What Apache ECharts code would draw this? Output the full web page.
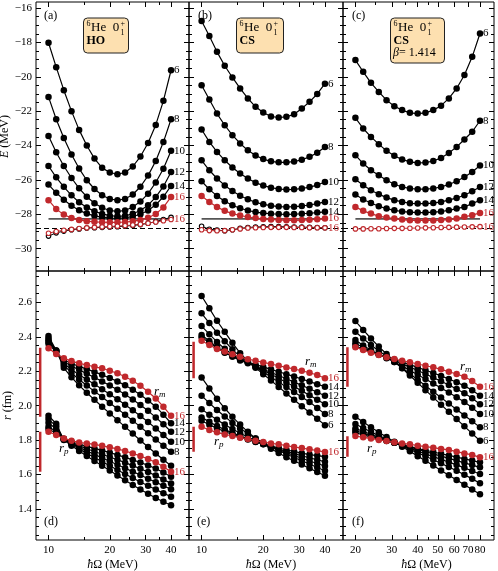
<!DOCTYPE html>
<html><head><meta charset="utf-8">
<script src="https://cdn.jsdelivr.net/npm/echarts@6/dist/echarts.min.js"></script>
<style>html,body{margin:0;padding:0;background:#fff}#c{width:498px;height:571px}</style>
</head><body><div id="c"></div>
<script>
// ---------------- data ----------------
const hwLow  = [10, 10.91, 11.89, 12.97, 14.14, 15.42, 16.82, 18.34, 20, 21.81, 23.78, 25.94, 28.28, 30.84, 33.64, 36.68, 40];
const hwHigh = [20, 21.81, 23.78, 25.94, 28.28, 30.84, 33.64, 36.68, 40, 43.62, 47.57, 51.87, 56.57, 61.69, 67.27, 73.36, 80];
const nmaxLabels = ['6', '8', '10', '12', '14', '16'];

// (a) HO energies, one row per Nmax 6..16
const E_HO = [
  [-18.02,-19.44,-20.78,-22.0,-23.09,-24.0,-24.76,-25.3,-25.57,-25.67,-25.57,-25.22,-24.64,-23.85,-22.8,-21.4,-19.62],
  [-21.17,-22.47,-23.56,-24.52,-25.34,-26.02,-26.53,-26.89,-27.11,-27.18,-27.11,-26.85,-26.4,-25.75,-24.9,-23.8,-22.47],
  [-23.44,-24.39,-25.19,-25.89,-26.49,-26.98,-27.36,-27.62,-27.78,-27.83,-27.78,-27.58,-27.26,-26.8,-26.15,-25.35,-24.31],
  [-25.19,-25.85,-26.4,-26.9,-27.3,-27.6,-27.83,-27.98,-28.08,-28.12,-28.09,-27.97,-27.78,-27.47,-27.0,-26.38,-25.54],
  [-26.27,-26.75,-27.15,-27.5,-27.77,-27.96,-28.09,-28.17,-28.22,-28.23,-28.21,-28.13,-28.0,-27.78,-27.45,-26.98,-26.35],
  [-27.18,-27.7,-28.02,-28.22,-28.33,-28.4,-28.44,-28.46,-28.47,-28.47,-28.45,-28.41,-28.33,-28.2,-27.98,-27.6,-26.99]
];
const E_HO_ext8  = [-29.27,-29.08,-28.98,-28.9,-28.85,-28.8,-28.78,-28.76,-28.74,-28.72,-28.69,-28.65,-28.6,-28.52,-28.43,-28.3,-28.18];
const E_HO_ext16 = [-29.1,-29.0,-28.93,-28.88,-28.83,-28.79,-28.76,-28.73,-28.71,-28.69,-28.66,-28.62,-28.58,-28.52,-28.45,-28.38,-28.3];

// (b) CS energies
const E_CS = [
  [-16.75,-17.63,-18.55,-19.36,-20.04,-20.68,-21.26,-21.75,-22.08,-22.31,-22.37,-22.33,-22.18,-21.85,-21.46,-21.0,-20.4],
  [-20.49,-21.32,-22.14,-22.82,-23.4,-23.88,-24.28,-24.58,-24.79,-24.92,-24.98,-24.98,-24.93,-24.83,-24.66,-24.42,-24.08],
  [-23.07,-23.79,-24.37,-24.86,-25.28,-25.63,-25.92,-26.16,-26.33,-26.45,-26.53,-26.56,-26.55,-26.5,-26.42,-26.3,-26.12],
  [-24.86,-25.44,-25.92,-26.32,-26.65,-26.92,-27.13,-27.3,-27.42,-27.5,-27.55,-27.57,-27.56,-27.52,-27.46,-27.38,-27.28],
  [-26.08,-26.55,-26.93,-27.24,-27.48,-27.65,-27.78,-27.87,-27.93,-27.97,-27.99,-28.0,-27.99,-27.97,-27.94,-27.9,-27.86],
  [-26.93,-27.28,-27.58,-27.8,-27.96,-28.07,-28.16,-28.22,-28.27,-28.3,-28.33,-28.35,-28.35,-28.34,-28.32,-28.29,-28.25]
];
const E_CS_ext8  = [-28.7,-28.87,-28.92,-28.96,-28.9,-28.82,-28.77,-28.74,-28.73,-28.72,-28.72,-28.73,-28.74,-28.75,-28.76,-28.77,-28.78];
const E_CS_ext16 = [-28.9,-28.95,-28.96,-28.95,-28.9,-28.85,-28.8,-28.78,-28.77,-28.76,-28.76,-28.76,-28.77,-28.77,-28.78,-28.78,-28.79];

// (c) CS, beta = 1.414 energies
const E_CSb = [
  [-19.03,-19.71,-20.35,-20.88,-21.36,-21.71,-21.94,-22.1,-22.14,-22.1,-21.94,-21.68,-21.26,-20.68,-19.9,-18.84,-17.48],
  [-22.39,-23.01,-23.5,-23.92,-24.31,-24.6,-24.81,-24.95,-25.01,-24.99,-24.9,-24.72,-24.43,-24.08,-23.65,-23.2,-22.56],
  [-24.56,-25.05,-25.44,-25.73,-26.02,-26.25,-26.41,-26.5,-26.54,-26.54,-26.5,-26.41,-26.27,-26.08,-25.83,-25.54,-25.16],
  [-25.96,-26.31,-26.6,-26.83,-27.03,-27.18,-27.28,-27.36,-27.38,-27.38,-27.35,-27.28,-27.18,-27.05,-26.89,-26.66,-26.41],
  [-26.85,-27.14,-27.34,-27.53,-27.67,-27.77,-27.84,-27.88,-27.9,-27.9,-27.88,-27.84,-27.77,-27.67,-27.57,-27.38,-27.18],
  [-27.57,-27.8,-27.96,-28.11,-28.19,-28.25,-28.31,-28.35,-28.36,-28.36,-28.36,-28.34,-28.31,-28.25,-28.15,-28.05,-27.92]
];
const E_CSb_ext16 = [-28.85,-28.85,-28.84,-28.84,-28.83,-28.82,-28.82,-28.81,-28.8,-28.79,-28.78,-28.77,-28.76,-28.75,-28.74,-28.73,-28.72];

const E_solid = -28.27;   // grey reference line
const E_dashed = -28.8;   // dashed reference line

// (d) HO radii
const Rm_HO = [
  [2.405,2.32,2.22,2.165,2.118,2.075,2.034,1.994,1.955,1.916,1.877,1.838,1.798,1.76,1.722,1.686,1.651],
  [2.39,2.32,2.235,2.19,2.152,2.117,2.083,2.05,2.016,1.982,1.948,1.913,1.877,1.84,1.803,1.768,1.732],
  [2.38,2.318,2.245,2.21,2.18,2.152,2.124,2.096,2.067,2.037,2.006,1.974,1.94,1.905,1.868,1.83,1.79],
  [2.37,2.315,2.255,2.23,2.208,2.186,2.164,2.141,2.117,2.092,2.065,2.036,2.004,1.97,1.932,1.892,1.849],
  [2.36,2.31,2.265,2.245,2.228,2.212,2.196,2.179,2.161,2.141,2.118,2.092,2.063,2.03,1.994,1.948,1.898],
  [2.333,2.30,2.275,2.259,2.246,2.236,2.226,2.217,2.203,2.188,2.168,2.145,2.116,2.081,2.042,1.994,1.941]
];
const Rp_HO = [
  [1.942,1.895,1.8,1.768,1.737,1.708,1.679,1.651,1.623,1.595,1.567,1.54,1.513,1.488,1.464,1.442,1.422],
  [1.922,1.88,1.803,1.774,1.748,1.723,1.699,1.675,1.651,1.627,1.603,1.58,1.557,1.535,1.513,1.492,1.471],
  [1.901,1.865,1.805,1.78,1.758,1.737,1.717,1.697,1.677,1.657,1.637,1.617,1.597,1.576,1.556,1.535,1.514],
  [1.878,1.85,1.806,1.785,1.767,1.75,1.734,1.718,1.702,1.686,1.669,1.652,1.634,1.615,1.594,1.572,1.548],
  [1.864,1.84,1.808,1.79,1.776,1.764,1.752,1.74,1.727,1.714,1.7,1.685,1.67,1.653,1.635,1.612,1.587],
  [1.849,1.83,1.81,1.797,1.786,1.781,1.775,1.767,1.758,1.749,1.737,1.723,1.708,1.69,1.671,1.645,1.616]
];
// (e) CS radii
const Rm_CS = [
  [2.637,2.565,2.493,2.429,2.365,2.305,2.258,2.22,2.183,2.146,2.109,2.071,2.034,1.997,1.96,1.924,1.887],
  [2.536,2.48,2.424,2.374,2.327,2.285,2.253,2.224,2.195,2.166,2.137,2.108,2.08,2.051,2.022,1.986,1.951],
  [2.462,2.415,2.37,2.33,2.297,2.27,2.25,2.228,2.205,2.182,2.159,2.135,2.111,2.086,2.06,2.035,2.008],
  [2.41,2.375,2.34,2.31,2.285,2.262,2.246,2.229,2.211,2.193,2.175,2.156,2.137,2.118,2.098,2.078,2.058],
  [2.397,2.365,2.335,2.308,2.286,2.266,2.251,2.238,2.225,2.211,2.197,2.183,2.169,2.155,2.14,2.125,2.11],
  [2.377,2.352,2.329,2.314,2.298,2.284,2.27,2.261,2.251,2.242,2.232,2.222,2.213,2.203,2.191,2.178,2.159]
];
const Rp_CS = [
  [2.164,2.1,2.04,1.985,1.935,1.89,1.848,1.81,1.778,1.75,1.725,1.7,1.68,1.658,1.636,1.615,1.593],
  [2.058,2.015,1.975,1.937,1.9,1.868,1.838,1.81,1.784,1.76,1.739,1.719,1.699,1.68,1.661,1.641,1.622],
  [1.979,1.948,1.918,1.89,1.864,1.84,1.818,1.798,1.779,1.761,1.744,1.727,1.711,1.695,1.679,1.664,1.649],
  [1.932,1.906,1.882,1.861,1.842,1.824,1.807,1.791,1.776,1.762,1.748,1.735,1.722,1.709,1.697,1.686,1.674],
  [1.912,1.889,1.868,1.85,1.833,1.817,1.803,1.789,1.777,1.765,1.754,1.744,1.734,1.724,1.716,1.71,1.704],
  [1.878,1.859,1.845,1.833,1.824,1.814,1.806,1.797,1.789,1.781,1.776,1.768,1.76,1.754,1.747,1.739,1.731]
];
// (f) CS beta radii
const Rm_CSb = [
  [2.491,2.44,2.39,2.343,2.3,2.259,2.217,2.175,2.133,2.09,2.048,2.006,1.964,1.922,1.88,1.838,1.796],
  [2.429,2.39,2.352,2.318,2.288,2.254,2.219,2.185,2.15,2.116,2.081,2.047,2.012,1.978,1.943,1.909,1.874],
  [2.381,2.35,2.322,2.298,2.276,2.254,2.23,2.205,2.18,2.155,2.129,2.103,2.076,2.049,2.021,1.988,1.951],
  [2.362,2.338,2.316,2.297,2.28,2.262,2.243,2.224,2.204,2.184,2.163,2.142,2.12,2.097,2.072,2.043,2.008],
  [2.346,2.328,2.311,2.296,2.282,2.268,2.253,2.238,2.222,2.206,2.19,2.173,2.155,2.136,2.115,2.09,2.058],
  [2.339,2.323,2.308,2.294,2.281,2.271,2.261,2.252,2.242,2.232,2.223,2.211,2.197,2.184,2.168,2.143,2.11]
];
const Rp_CSb = [
  [1.936,1.905,1.875,1.845,1.818,1.79,1.762,1.735,1.707,1.68,1.652,1.624,1.596,1.568,1.541,1.513,1.485],
  [1.893,1.87,1.848,1.826,1.806,1.786,1.766,1.746,1.726,1.706,1.686,1.665,1.644,1.622,1.599,1.575,1.549],
  [1.868,1.85,1.833,1.816,1.8,1.784,1.768,1.752,1.736,1.72,1.704,1.688,1.672,1.656,1.639,1.621,1.603],
  [1.855,1.84,1.825,1.811,1.798,1.785,1.772,1.759,1.746,1.733,1.72,1.707,1.694,1.681,1.668,1.655,1.642],
  [1.843,1.83,1.818,1.806,1.795,1.784,1.773,1.762,1.751,1.741,1.731,1.721,1.711,1.701,1.691,1.681,1.671],
  [1.824,1.816,1.81,1.801,1.795,1.787,1.781,1.776,1.768,1.762,1.756,1.749,1.743,1.733,1.723,1.714,1.7]
];
// red experimental bars: [hw, top, bottom]
const barRm = [[9.1, 2.336, 1.936], [9.14, 2.371, 2.159], [18.3, 2.339, 2.11]];
const barRp = [[9.1, 1.849, 1.616], [9.14, 1.878, 1.732], [18.3, 1.823, 1.703]];

// tick labels
const xTicksLow  = [10, 20, 30, 40];
const xTicksHigh = [20, 30, 40, 50, 60, 70, 80];
const xMinorLow  = [15, 25, 35];
const xMinorHigh = [25, 35, 45];
const yTicksE = [-30, -28, -26, -24, -22, -20, -18, -16];
const yTicksR = [1.4, 1.6, 1.8, 2.0, 2.2, 2.4, 2.6];

// ---------------- layout ----------------
const FONT = 'Liberation Serif';
const RED = '#c0282c';
const COLS = [{l: 36, w: 153}, {l: 189, w: 154}, {l: 343, w: 151}];
const ROWS = [{t: 2, h: 269}, {t: 271, h: 269}];
const xRange = [[8.68, 49], [8.68, 49], [17.42, 93.5]];
const yRange = [[-31.3, -15.65], [1.22, 2.782]];
function minorList(lo, hi, step, majors) {
  const out = [];
  const n0 = Math.ceil(lo / step - 1e-9), n1 = Math.floor(hi / step + 1e-9);
  for (let n = n0; n <= n1; n++) {
    const v = +(n * step).toFixed(4);
    if (!majors.some(m => Math.abs(m - v) < 1e-6)) out.push(v);
  }
  return out;
}

const grids = [], xAxes = [], yAxes = [], series = [];
const lblStyle = {fontFamily: FONT, fontSize: 11, color: '#000'};

for (let gi = 0; gi < 6; gi++) {
  const col = gi % 3, row = Math.floor(gi / 3);
  grids.push({left: COLS[col].l, width: COLS[col].w, top: ROWS[row].t, height: ROWS[row].h,
    show: true, borderColor: '#000', borderWidth: 1, backgroundColor: 'transparent',
    containLabel: false, outerBoundsMode: 'none'});
  const xm = col === 2 ? xTicksHigh : xTicksLow;
  const xn = col === 2 ? xMinorHigh : xMinorLow;
  const [xmin, xmax] = xRange[col];
  const mkX = (pos, ticks, len, showLabel) => ({
    type: 'log', logBase: 10, gridIndex: gi, position: pos, min: xmin, max: xmax,
    axisLine: {show: false, onZero: false}, splitLine: {show: false}, minorTick: {show: false},
    axisTick: {show: true, inside: true, length: len, customValues: ticks, lineStyle: {color: '#000', width: 1}},
    axisLabel: Object.assign({show: showLabel, customValues: ticks, margin: 5, formatter: v => String(v)}, lblStyle),
    name: (showLabel && row === 1) ? '{i|ħ}Ω (MeV)' : '', nameLocation: 'middle', nameGap: 19,
    nameTextStyle: {fontFamily: FONT, fontSize: 12, color: '#000', padding: col === 2 ? [0, 0, 0, 16] : (col === 1 ? [0, 0, 0, 10] : 0),
      rich: {i: {fontFamily: FONT, fontSize: 12, fontStyle: 'italic', color: '#000'}}}
  });
  xAxes.push(mkX('bottom', xm, 5, row === 1));
  xAxes.push(mkX('top', xm, 5, false));
  xAxes.push(mkX('bottom', xn, 3, false));
  xAxes.push(mkX('top', xn, 3, false));

  const ym = row === 0 ? yTicksE : yTicksR;
  const [ymin, ymax] = yRange[row];
  const yn = row === 0 ? minorList(ymin, ymax, 0.5, ym) : minorList(ymin, ymax, 0.05, ym);
  const yFmt = row === 0 ? (v => String(v).replace('-', '\u2212')) : (v => v.toFixed(1));
  const mkY = (pos, ticks, len, showLabel) => ({
    type: 'value', gridIndex: gi, position: pos, min: ymin, max: ymax,
    axisLine: {show: false, onZero: false}, splitLine: {show: false}, minorTick: {show: false},
    axisTick: {show: true, inside: true, length: len, customValues: ticks, lineStyle: {color: '#000', width: 1}},
    axisLabel: Object.assign({show: showLabel, customValues: ticks, margin: 4, formatter: yFmt}, lblStyle),
    name: showLabel ? (row === 0 ? '{i|E} (MeV)' : '{i|r} (fm)') : '',
    nameLocation: 'middle', nameRotate: 90, nameGap: 22,
    nameTextStyle: {fontFamily: FONT, fontSize: 12, color: '#000',
      rich: {i: {fontFamily: FONT, fontSize: 12, fontStyle: 'italic', color: '#000'}}}
  });
  yAxes.push(mkY('left', ym, 5, col === 0));
  yAxes.push(mkY('right', ym, 5, false));
  yAxes.push(mkY('left', yn, 3, false));
  yAxes.push(mkY('right', yn, 3, false));
}

function lineS(gi, xs, ys, color, label, extra) {
  const s = {
    type: 'line', xAxisIndex: 4 * gi, yAxisIndex: 4 * gi,
    data: xs.map((x, i) => [x, ys[i]]),
    symbol: 'circle', symbolSize: 6.5, showSymbol: true, showAllSymbol: true,
    itemStyle: {color: color}, lineStyle: {color: color, width: 1.2},
    animation: false, silent: true, z: color === RED ? 4 : 3
  };
  if (label) {
    s.endLabel = {show: true, formatter: label, color: color, fontFamily: FONT, fontSize: 11, distance: 3};
  }
  return Object.assign(s, extra || {});
}
function openS(gi, xs, ys, color, label) {
  return lineS(gi, xs, ys, color, label, {
    symbolSize: 4.5, itemStyle: {color: '#fff', borderColor: color, borderWidth: 1.1},
    lineStyle: {color: color, width: 1}, z: 5
  });
}

// top panels
const topSets = [
  {E: E_HO, ext8: E_HO_ext8, ext16: E_HO_ext16, hw: hwLow},
  {E: E_CS, ext8: E_CS_ext8, ext16: E_CS_ext16, hw: hwLow},
  {E: E_CSb, ext8: null, ext16: E_CSb_ext16, hw: hwHigh}
];
topSets.forEach((set, gi) => {
  const hw = set.hw;
  // dashed reference line across the whole panel
  series.push({type: 'line', xAxisIndex: 4 * gi, yAxisIndex: 4 * gi, data: [], animation: false, silent: true,
    markLine: {silent: true, symbol: 'none', label: {show: false}, animation: false,
      lineStyle: {color: '#000', type: [5, 3], width: 1}, data: [{yAxis: E_dashed}]}});
  // solid grey line
  series.push({type: 'line', xAxisIndex: 4 * gi, yAxisIndex: 4 * gi, data: [[hw[0], E_solid], [hw[hw.length - 1], E_solid]],
    symbol: 'none', lineStyle: {color: '#555', width: 1.6}, animation: false, silent: true, z: 2});
  set.E.forEach((ys, j) => series.push(lineS(gi, hw, ys, j === 5 ? RED : '#000', nmaxLabels[j])));
  if (set.ext8) series.push(openS(gi, hw, set.ext8, '#000', null));
  series.push(openS(gi, hw, set.ext16, RED, '16'));
});

// bottom panels
const botSets = [
  {m: Rm_HO, p: Rp_HO, hw: hwLow, mLabels: ['', '8', '10', '12', '14', '16']},
  {m: Rm_CS, p: Rp_CS, hw: hwLow, mLabels: nmaxLabels},
  {m: Rm_CSb, p: Rp_CSb, hw: hwHigh, mLabels: nmaxLabels}
];
botSets.forEach((set, k) => {
  const gi = 3 + k, hw = set.hw;
  [barRm[k], barRp[k]].forEach(b => series.push({type: 'line', xAxisIndex: 4 * gi, yAxisIndex: 4 * gi,
    data: [[b[0], b[1]], [b[0], b[2]]], symbol: 'none', lineStyle: {color: RED, width: 2.5}, animation: false, silent: true}));
  set.p.forEach((ys, j) => series.push(lineS(gi, hw, ys, j === 5 ? RED : '#000', j === 5 ? '16' : null)));
  set.m.forEach((ys, j) => series.push(lineS(gi, hw, ys, j === 5 ? RED : '#000', set.mLabels[j] || null)));
});

// ---------------- annotations ----------------
const txt = (x, y, text, extra) => ({type: 'text', left: x, top: y, z: 50,
  style: Object.assign({text: text, font: '12px "Liberation Serif"', fill: '#000'}, extra || {})});
function box(x, y, w, h, lines) {
  const children = [{type: 'rect', shape: {x: 0, y: 0, width: w, height: h, r: 4},
    style: {fill: '#fde0b0', stroke: '#222', lineWidth: 1}}];
  // 6He 0_1^+
  children.push({type: 'text', x: 3, y: 2, style: {text: '6', font: '8px "Liberation Serif"', fill: '#000'}});
  children.push({type: 'text', x: 7.5, y: 3, style: {text: 'He  0', font: '13px "Liberation Serif"', fill: '#000'}});
  children.push({type: 'text', x: 37, y: 2, style: {text: '+', font: '8px "Liberation Serif"', fill: '#000'}});
  children.push({type: 'text', x: 37, y: 10.5, style: {text: '1', font: '8px "Liberation Serif"', fill: '#000'}});
  lines.forEach((l, i) => children.push({type: 'text', x: 3, y: 17 + i * 12, style: {text: l.t, font: l.f, fill: '#000'}}));
  return {type: 'group', left: x, top: y, z: 60, children: children};
}
const rich = {r: {fontFamily: FONT, fontSize: 13, fontStyle: 'italic'}, s: {fontFamily: FONT, fontSize: 9, fontStyle: 'italic', padding: [6, 0, 0, 0]}};
const graphics = [
  txt(44, 10, '(a)'), txt(198, 10, '(b)'), txt(352, 10, '(c)'),
  txt(44, 516, '(d)'), txt(197, 516, '(e)'), txt(352, 516, '(f)'),
  box(83, 17.5, 45, 35, [{t: 'HO', f: 'bold 12px "Liberation Serif"'}]),
  box(236, 17.5, 47, 35, [{t: 'CS', f: 'bold 12px "Liberation Serif"'}]),
  box(390, 17.5, 54, 45, [{t: 'CS', f: 'bold 12px "Liberation Serif"'}, {t: '', f: '12px "Liberation Serif"'}]),
  {type: 'text', left: 393, top: 47, z: 61, style: {text: '{b|β}= 1.414', font: '12px "Liberation Serif"', fill: '#000',
    rich: {b: {fontFamily: FONT, fontSize: 12, fontStyle: 'italic'}}}},
  {type: 'text', left: 154, top: 385, z: 50, style: {text: '{r|r}{s|m}', rich: rich, fill: '#000'}},
  {type: 'text', left: 59, top: 442, z: 50, style: {text: '{r|r}{s|p}', rich: rich, fill: '#000'}},
  {type: 'text', left: 305, top: 355, z: 50, style: {text: '{r|r}{s|m}', rich: rich, fill: '#000'}},
  {type: 'text', left: 214, top: 435, z: 50, style: {text: '{r|r}{s|p}', rich: rich, fill: '#000'}},
  {type: 'text', left: 460, top: 360, z: 50, style: {text: '{r|r}{s|m}', rich: rich, fill: '#000'}},
  {type: 'text', left: 367, top: 442, z: 50, style: {text: '{r|r}{s|p}', rich: rich, fill: '#000'}}
];

const chart = echarts.init(document.getElementById('c'), null, {renderer: 'canvas'});
chart.setOption({
  animation: false,
  backgroundColor: '#fff',
  grid: grids, xAxis: xAxes, yAxis: yAxes, series: series, graphic: graphics
});
</script></body></html>
